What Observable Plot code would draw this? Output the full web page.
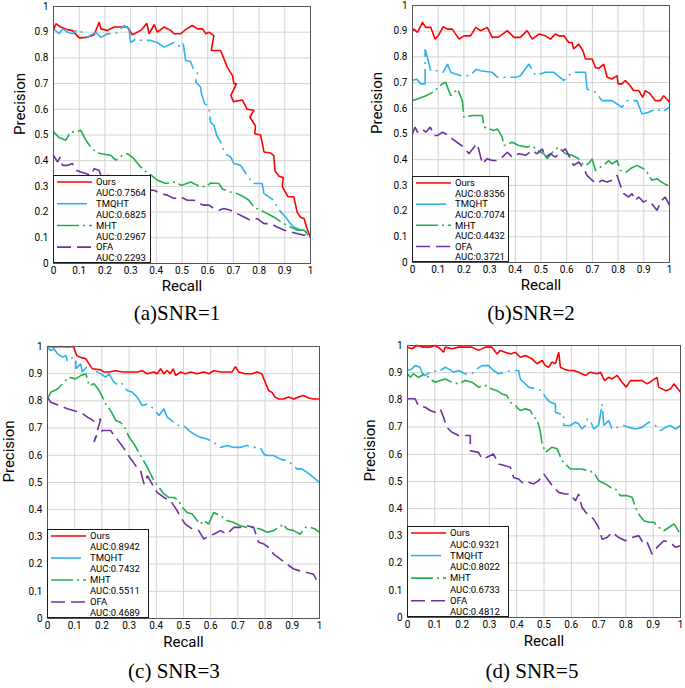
<!DOCTYPE html>
<html><head><meta charset="utf-8">
<script src="https://cdn.jsdelivr.net/npm/d3@7"></script>
<script src="https://cdn.jsdelivr.net/npm/@observablehq/plot@0.6"></script>
<style>
body{margin:0;background:#fff;}
#root{position:relative;width:685px;height:688px;overflow:hidden;background:#fff;font-family:Roboto,"Open Sans",sans-serif}
.panel{position:absolute}
.cap{position:absolute;font-family:"Liberation Serif","DejaVu Serif",serif;font-size:21px;line-height:21px;transform:translateX(-50%);white-space:nowrap;color:#000}
.legend{position:absolute;border:1.5px solid #1a1a1a;background:#fff;box-sizing:border-box}
.legend svg{position:absolute;left:0;top:0}
</style></head><body>
<div id="root"></div>
<script>
// ---------- data ----------
const methods = ["Ours", "TMQHT", "MHT", "OFA"];
const colors = ["#ff0000", "#2db3ec", "#22b04b", "#7030a0"];
const dashes = [null, "30,5,2,5", "22,4,2,4", "14,6"];
const ticks = [0,0.1,0.2,0.3,0.4,0.5,0.6,0.7,0.8,0.9,1];
const captions = ["(a)SNR=1", "(b)SNR=2", "(c) SNR=3", "(d) SNR=5"];
const aucA = ["AUC:0.7564","AUC:0.6825","AUC:0.2967","AUC:0.2293"];
const aucB = ["AUC:0.8356","AUC:0.7074","AUC:0.4432","AUC:0.3721"];
const aucC = ["AUC:0.8942","AUC:0.7432","AUC:0.5511","AUC:0.4689"];
const aucD = ["AUC:0.9321","AUC:0.8022","AUC:0.6733","AUC:0.4812"];

// (a) SNR=1  — [recall, precision]
const a_Ours = [[0,0.907],[0.009,0.933],[0.029,0.92],[0.054,0.91],[0.074,0.906],[0.1,0.878],[0.132,0.88],[0.158,0.89],[0.178,0.939],[0.184,0.913],[0.21,0.907],[0.236,0.92],[0.287,0.92],[0.307,0.89],[0.34,0.907],[0.363,0.935],[0.372,0.894],[0.392,0.93],[0.404,0.9],[0.43,0.92],[0.456,0.907],[0.469,0.894],[0.495,0.894],[0.514,0.91],[0.54,0.926],[0.56,0.913],[0.58,0.913],[0.593,0.894],[0.605,0.9],[0.624,0.887],[0.614,0.829],[0.65,0.829],[0.663,0.797],[0.676,0.764],[0.696,0.732],[0.702,0.70],[0.712,0.70],[0.69,0.654],[0.70,0.63],[0.735,0.636],[0.754,0.6],[0.78,0.596],[0.764,0.57],[0.786,0.535],[0.783,0.505],[0.806,0.5],[0.819,0.434],[0.845,0.43],[0.857,0.42],[0.862,0.36],[0.877,0.34],[0.894,0.335],[0.89,0.3],[0.912,0.26],[0.935,0.26],[0.948,0.2],[0.961,0.18],[0.975,0.175],[0.985,0.14],[1,0.1]];
const a_TMQHT = [[0,0.913],[0.022,0.894],[0.035,0.913],[0.054,0.9],[0.074,0.894],[0.087,0.906],[0.1,0.91],[0.13,0.88],[0.165,0.9],[0.184,0.88],[0.21,0.894],[0.242,0.894],[0.262,0.913],[0.275,0.926],[0.294,0.913],[0.3,0.86],[0.32,0.874],[0.34,0.868],[0.378,0.868],[0.404,0.86],[0.43,0.842],[0.469,0.86],[0.495,0.842],[0.505,0.855],[0.514,0.79],[0.534,0.785],[0.544,0.758],[0.56,0.74],[0.553,0.706],[0.572,0.687],[0.576,0.661],[0.588,0.622],[0.605,0.609],[0.611,0.55],[0.624,0.538],[0.635,0.499],[0.65,0.473],[0.66,0.447],[0.676,0.421],[0.689,0.415],[0.702,0.389],[0.728,0.382],[0.74,0.363],[0.754,0.343],[0.777,0.311],[0.812,0.311],[0.819,0.272],[0.838,0.259],[0.857,0.246],[0.87,0.22],[0.89,0.194],[0.903,0.181],[0.922,0.155],[0.935,0.142],[0.961,0.13],[0.987,0.123],[1,0.1]];
const a_MHT = [[0,0.512],[0.022,0.49],[0.048,0.48],[0.067,0.512],[0.087,0.512],[0.106,0.518],[0.126,0.48],[0.145,0.453],[0.165,0.434],[0.184,0.427],[0.223,0.421],[0.242,0.402],[0.268,0.421],[0.288,0.427],[0.313,0.408],[0.333,0.382],[0.352,0.363],[0.372,0.35],[0.404,0.324],[0.437,0.311],[0.469,0.317],[0.5,0.304],[0.534,0.317],[0.56,0.304],[0.592,0.298],[0.611,0.313],[0.644,0.311],[0.657,0.29],[0.689,0.278],[0.715,0.272],[0.741,0.259],[0.76,0.246],[0.78,0.22],[0.806,0.207],[0.832,0.194],[0.857,0.181],[0.877,0.168],[0.896,0.155],[0.922,0.142],[0.948,0.13],[0.974,0.13],[1,0.1]];
const a_OFA = [[0,0.421],[0.016,0.395],[0.026,0.414],[0.035,0.382],[0.054,0.382],[0.074,0.389],[0.087,0.363],[0.106,0.356],[0.126,0.35],[0.145,0.343],[0.158,0.369],[0.177,0.363],[0.184,0.343],[0.21,0.343],[0.236,0.337],[0.262,0.33],[0.313,0.298],[0.352,0.285],[0.391,0.285],[0.417,0.272],[0.443,0.266],[0.469,0.253],[0.495,0.259],[0.521,0.246],[0.547,0.246],[0.566,0.233],[0.585,0.227],[0.605,0.227],[0.624,0.214],[0.644,0.207],[0.663,0.214],[0.689,0.207],[0.715,0.194],[0.741,0.181],[0.767,0.168],[0.793,0.175],[0.819,0.155],[0.845,0.155],[0.87,0.142],[0.896,0.13],[0.922,0.123],[0.948,0.117],[0.974,0.11],[1,0.117]];

// (b) SNR=2
const b_Ours = [[0,0.902],[0.006,0.908],[0.019,0.895],[0.039,0.934],[0.052,0.915],[0.071,0.915],[0.088,0.869],[0.1,0.882],[0.119,0.917],[0.136,0.908],[0.155,0.908],[0.181,0.869],[0.2,0.882],[0.226,0.882],[0.246,0.915],[0.265,0.902],[0.291,0.915],[0.31,0.876],[0.336,0.878],[0.369,0.902],[0.395,0.876],[0.42,0.876],[0.446,0.902],[0.466,0.869],[0.492,0.889],[0.517,0.882],[0.537,0.869],[0.556,0.889],[0.569,0.882],[0.589,0.882],[0.608,0.856],[0.621,0.856],[0.627,0.831],[0.647,0.85],[0.663,0.824],[0.673,0.792],[0.699,0.792],[0.712,0.759],[0.725,0.755],[0.744,0.772],[0.757,0.721],[0.776,0.714],[0.796,0.727],[0.8,0.695],[0.815,0.695],[0.828,0.708],[0.847,0.688],[0.86,0.669],[0.88,0.669],[0.896,0.643],[0.906,0.669],[0.925,0.656],[0.944,0.63],[0.964,0.63],[0.977,0.649],[0.99,0.636],[1,0.624]];
const b_TMQHT = [[0,0.708],[0.016,0.714],[0.032,0.695],[0.049,0.695],[0.049,0.83],[0.058,0.798],[0.071,0.746],[0.097,0.746],[0.119,0.74],[0.136,0.772],[0.149,0.74],[0.188,0.727],[0.223,0.727],[0.248,0.752],[0.265,0.746],[0.31,0.74],[0.33,0.721],[0.362,0.721],[0.401,0.721],[0.42,0.727],[0.453,0.772],[0.479,0.727],[0.517,0.74],[0.55,0.74],[0.589,0.708],[0.621,0.74],[0.673,0.74],[0.679,0.675],[0.712,0.662],[0.737,0.63],[0.776,0.63],[0.815,0.604],[0.834,0.63],[0.873,0.63],[0.893,0.578],[0.918,0.585],[0.951,0.598],[0.97,0.585],[1,0.604]];
const b_MHT = [[0,0.63],[0.019,0.636],[0.052,0.649],[0.078,0.662],[0.116,0.695],[0.129,0.701],[0.149,0.649],[0.175,0.675],[0.194,0.63],[0.2,0.565],[0.233,0.572],[0.272,0.572],[0.278,0.527],[0.317,0.514],[0.33,0.52],[0.349,0.488],[0.356,0.455],[0.388,0.468],[0.414,0.455],[0.446,0.449],[0.466,0.455],[0.485,0.436],[0.511,0.423],[0.524,0.404],[0.55,0.436],[0.569,0.449],[0.595,0.423],[0.621,0.417],[0.647,0.404],[0.666,0.378],[0.686,0.385],[0.699,0.404],[0.712,0.358],[0.75,0.384],[0.763,0.397],[0.776,0.384],[0.796,0.397],[0.809,0.358],[0.834,0.352],[0.847,0.365],[0.873,0.378],[0.899,0.365],[0.912,0.352],[0.931,0.32],[0.951,0.326],[0.97,0.313],[0.99,0.3],[1,0.313]];
const b_OFA = [[0,0.501],[0.01,0.527],[0.019,0.507],[0.036,0.52],[0.052,0.507],[0.069,0.527],[0.084,0.494],[0.097,0.494],[0.116,0.507],[0.129,0.501],[0.155,0.481],[0.181,0.462],[0.2,0.449],[0.22,0.423],[0.239,0.449],[0.252,0.462],[0.272,0.384],[0.291,0.404],[0.31,0.397],[0.33,0.397],[0.349,0.41],[0.369,0.429],[0.388,0.41],[0.414,0.423],[0.44,0.417],[0.466,0.436],[0.485,0.423],[0.505,0.442],[0.517,0.41],[0.537,0.423],[0.556,0.41],[0.576,0.429],[0.595,0.442],[0.608,0.417],[0.627,0.378],[0.647,0.391],[0.666,0.365],[0.679,0.339],[0.699,0.32],[0.718,0.307],[0.737,0.32],[0.757,0.313],[0.776,0.32],[0.796,0.339],[0.809,0.3],[0.822,0.268],[0.841,0.255],[0.854,0.268],[0.867,0.242],[0.88,0.255],[0.899,0.235],[0.912,0.242],[0.931,0.229],[0.951,0.203],[0.97,0.242],[0.983,0.255],[1,0.223]];

// (c) SNR=3
const c_Ours = [[0,1],[0.024,0.998],[0.049,1],[0.073,0.998],[0.095,1],[0.108,0.966],[0.122,0.96],[0.141,0.955],[0.153,0.936],[0.165,0.918],[0.196,0.914],[0.208,0.906],[0.226,0.906],[0.251,0.911],[0.275,0.906],[0.3,0.906],[0.33,0.906],[0.348,0.911],[0.367,0.9],[0.391,0.906],[0.403,0.9],[0.416,0.918],[0.428,0.9],[0.44,0.911],[0.452,0.9],[0.462,0.918],[0.471,0.893],[0.489,0.906],[0.507,0.9],[0.526,0.906],[0.55,0.9],[0.575,0.906],[0.593,0.9],[0.611,0.911],[0.636,0.906],[0.66,0.906],[0.678,0.906],[0.691,0.926],[0.703,0.906],[0.727,0.9],[0.752,0.9],[0.77,0.906],[0.788,0.9],[0.8,0.869],[0.813,0.838],[0.825,0.832],[0.837,0.814],[0.85,0.807],[0.868,0.807],[0.886,0.814],[0.905,0.807],[0.923,0.814],[0.941,0.82],[0.96,0.811],[0.978,0.807],[1,0.807]];
const c_TMQHT = [[0,0.998],[0.01,0.985],[0.024,0.991],[0.037,0.973],[0.055,0.961],[0.067,0.967],[0.073,0.948],[0.086,0.948],[0.092,0.961],[0.104,0.948],[0.104,0.918],[0.122,0.936],[0.128,0.906],[0.144,0.924],[0.156,0.93],[0.171,0.912],[0.196,0.9],[0.214,0.887],[0.226,0.9],[0.244,0.869],[0.263,0.856],[0.275,0.863],[0.293,0.838],[0.312,0.832],[0.33,0.814],[0.348,0.783],[0.367,0.789],[0.391,0.771],[0.41,0.746],[0.428,0.771],[0.44,0.74],[0.465,0.721],[0.483,0.709],[0.501,0.709],[0.52,0.691],[0.538,0.678],[0.562,0.666],[0.587,0.66],[0.611,0.648],[0.636,0.629],[0.66,0.636],[0.685,0.629],[0.709,0.629],[0.733,0.636],[0.758,0.629],[0.782,0.629],[0.795,0.605],[0.807,0.599],[0.831,0.599],[0.856,0.586],[0.88,0.58],[0.899,0.568],[0.917,0.55],[0.935,0.55],[0.954,0.537],[0.978,0.519],[1,0.5]];
const c_MHT = [[0,0.807],[0.012,0.832],[0.037,0.844],[0.061,0.869],[0.079,0.887],[0.104,0.881],[0.122,0.893],[0.141,0.9],[0.153,0.856],[0.171,0.863],[0.19,0.838],[0.202,0.814],[0.214,0.789],[0.232,0.764],[0.251,0.728],[0.269,0.721],[0.287,0.697],[0.3,0.666],[0.318,0.642],[0.342,0.599],[0.367,0.556],[0.391,0.507],[0.41,0.482],[0.428,0.458],[0.446,0.445],[0.465,0.445],[0.483,0.433],[0.495,0.409],[0.513,0.39],[0.532,0.384],[0.55,0.36],[0.562,0.347],[0.575,0.36],[0.593,0.347],[0.611,0.39],[0.636,0.378],[0.66,0.36],[0.685,0.353],[0.709,0.341],[0.733,0.335],[0.758,0.335],[0.782,0.329],[0.807,0.317],[0.831,0.323],[0.85,0.335],[0.868,0.347],[0.88,0.329],[0.905,0.323],[0.929,0.31],[0.948,0.335],[0.966,0.335],[0.984,0.329],[1,0.317]];
const c_OFA = [[0,0.814],[0.012,0.795],[0.043,0.783],[0.073,0.771],[0.098,0.764],[0.122,0.758],[0.147,0.74],[0.159,0.734],[0.177,0.721],[0.196,0.734],[0.171,0.648],[0.183,0.679],[0.202,0.691],[0.232,0.691],[0.251,0.666],[0.269,0.642],[0.287,0.617],[0.306,0.587],[0.324,0.562],[0.342,0.544],[0.355,0.494],[0.367,0.525],[0.385,0.494],[0.403,0.464],[0.428,0.445],[0.452,0.433],[0.477,0.396],[0.489,0.372],[0.507,0.347],[0.532,0.329],[0.556,0.323],[0.575,0.292],[0.593,0.304],[0.611,0.31],[0.636,0.323],[0.66,0.31],[0.685,0.335],[0.709,0.335],[0.733,0.341],[0.758,0.335],[0.776,0.28],[0.795,0.274],[0.813,0.261],[0.831,0.237],[0.856,0.218],[0.88,0.2],[0.905,0.182],[0.929,0.175],[0.954,0.169],[0.978,0.163],[0.99,0.139],[1,0.145]];

// (d) SNR=5
const d_Ours = [[0,0.994],[0.016,0.988],[0.034,1],[0.059,0.994],[0.083,0.994],[0.101,1],[0.12,0.988],[0.132,0.975],[0.138,0.994],[0.163,0.988],[0.187,0.994],[0.211,0.994],[0.236,0.994],[0.26,0.982],[0.285,0.994],[0.309,0.994],[0.328,0.969],[0.34,0.982],[0.358,0.975],[0.377,0.969],[0.395,0.975],[0.413,0.957],[0.432,0.963],[0.456,0.951],[0.474,0.933],[0.493,0.945],[0.505,0.926],[0.517,0.92],[0.529,0.939],[0.542,0.933],[0.554,0.975],[0.56,0.92],[0.572,0.914],[0.59,0.908],[0.609,0.908],[0.627,0.902],[0.652,0.89],[0.67,0.902],[0.694,0.896],[0.707,0.902],[0.722,0.871],[0.737,0.883],[0.749,0.877],[0.768,0.89],[0.786,0.865],[0.801,0.847],[0.817,0.871],[0.835,0.871],[0.859,0.871],[0.878,0.859],[0.896,0.871],[0.914,0.883],[0.92,0.847],[0.945,0.834],[0.963,0.84],[0.976,0.859],[1,0.828]];
const d_TMQHT = [[0,0.908],[0.016,0.914],[0.028,0.926],[0.046,0.92],[0.055,0.896],[0.065,0.89],[0.083,0.902],[0.095,0.908],[0.114,0.902],[0.138,0.92],[0.15,0.914],[0.169,0.902],[0.187,0.908],[0.211,0.896],[0.236,0.896],[0.254,0.914],[0.273,0.926],[0.297,0.926],[0.315,0.908],[0.334,0.896],[0.358,0.902],[0.383,0.908],[0.407,0.908],[0.413,0.877],[0.444,0.847],[0.474,0.84],[0.493,0.834],[0.505,0.81],[0.523,0.791],[0.542,0.785],[0.542,0.755],[0.56,0.748],[0.572,0.748],[0.572,0.706],[0.597,0.706],[0.615,0.718],[0.627,0.712],[0.639,0.693],[0.652,0.706],[0.658,0.73],[0.67,0.724],[0.682,0.693],[0.7,0.706],[0.713,0.785],[0.719,0.706],[0.737,0.724],[0.749,0.693],[0.768,0.699],[0.792,0.706],[0.81,0.699],[0.835,0.693],[0.859,0.699],[0.884,0.718],[0.908,0.706],[0.927,0.687],[0.945,0.699],[0.963,0.706],[0.982,0.693],[1,0.706]];
const d_MHT = [[0,0.896],[0.01,0.883],[0.022,0.896],[0.04,0.883],[0.065,0.896],[0.083,0.877],[0.101,0.865],[0.12,0.871],[0.138,0.877],[0.163,0.865],[0.187,0.859],[0.211,0.871],[0.236,0.865],[0.26,0.847],[0.285,0.853],[0.309,0.84],[0.328,0.834],[0.346,0.822],[0.364,0.816],[0.377,0.791],[0.395,0.779],[0.413,0.761],[0.432,0.767],[0.45,0.761],[0.462,0.736],[0.474,0.73],[0.486,0.687],[0.493,0.638],[0.505,0.607],[0.529,0.626],[0.548,0.62],[0.566,0.577],[0.578,0.564],[0.597,0.546],[0.615,0.546],[0.639,0.546],[0.658,0.54],[0.682,0.534],[0.7,0.503],[0.725,0.491],[0.743,0.479],[0.762,0.472],[0.78,0.448],[0.804,0.448],[0.823,0.442],[0.835,0.405],[0.847,0.38],[0.866,0.356],[0.884,0.35],[0.902,0.35],[0.921,0.331],[0.939,0.319],[0.957,0.331],[0.976,0.344],[1,0.307]];
const d_OFA = [[0,0.804],[0.028,0.804],[0.04,0.779],[0.065,0.773],[0.083,0.761],[0.101,0.755],[0.12,0.767],[0.132,0.736],[0.144,0.699],[0.163,0.681],[0.187,0.669],[0.218,0.669],[0.23,0.669],[0.23,0.613],[0.26,0.607],[0.273,0.583],[0.291,0.589],[0.315,0.601],[0.334,0.564],[0.358,0.558],[0.377,0.552],[0.389,0.515],[0.407,0.509],[0.425,0.491],[0.444,0.497],[0.462,0.491],[0.48,0.503],[0.499,0.528],[0.517,0.503],[0.535,0.479],[0.554,0.46],[0.578,0.454],[0.597,0.454],[0.615,0.429],[0.627,0.454],[0.639,0.405],[0.658,0.38],[0.682,0.362],[0.7,0.331],[0.713,0.288],[0.731,0.294],[0.749,0.313],[0.774,0.294],[0.798,0.282],[0.823,0.294],[0.847,0.301],[0.866,0.27],[0.878,0.276],[0.896,0.233],[0.914,0.258],[0.939,0.282],[0.963,0.276],[0.982,0.258],[1,0.264]];

// ---------- layout ----------
const panels = [
  {series:[a_Ours,a_TMQHT,a_MHT,a_OFA], auc:aucA, cap:captions[0], left:0,   top:0,   ml:53, mt:6, pw:257, ph:257, mr:15, mb:40, ydx:-33, xdy:27,
   leg:{w:98, h:88}, capX:177, capY:303},
  {series:[b_Ours,b_TMQHT,b_MHT,b_OFA], auc:aucB, cap:captions[1], left:359, top:0,   ml:53, mt:5, pw:257, ph:257, mr:16, mb:40, ydx:-35, xdy:27,
   leg:{w:97, h:86}, capX:531, capY:303},
  {series:[c_Ours,c_TMQHT,c_MHT,c_OFA], auc:aucC, cap:captions[2], left:0,   top:340, ml:47, mt:6, pw:272, ph:272, mr:15, mb:45, ydx:-38, xdy:28,
   leg:{w:102, h:89}, capX:174, capY:661},
  {series:[d_Ours,d_TMQHT,d_MHT,d_OFA], auc:aucD, cap:captions[3], left:360, top:340, ml:47, mt:5, pw:273, ph:272, mr:5, mb:45, ydx:-37, xdy:28,
   leg:{w:102, h:91}, capX:532, capY:661}
];

const root = document.getElementById("root");
const fmt = d => d === 0 ? "0" : d === 1 ? "1" : d3.format(".1f")(d);

panels.forEach(p => {
  const chart = Plot.plot({
    width: p.ml + p.pw + p.mr,
    height: p.mt + p.ph + p.mb,
    marginLeft: p.ml, marginRight: p.mr, marginTop: p.mt, marginBottom: p.mb,
    style: {fontFamily: "Roboto, sans-serif", fontSize: "10px", background: "transparent", color: "#000"},
    x: {domain: [0, 1], label: null},
    y: {domain: [0, 1], label: null},
    marks: [
      Plot.gridX(ticks, {stroke: "#d2d2d2", strokeOpacity: 1, strokeWidth: 1}),
      Plot.gridY(ticks, {stroke: "#d2d2d2", strokeOpacity: 1, strokeWidth: 1}),
      ...methods.map((m, i) => Plot.line(p.series[i], {
        x: d => d[0], y: d => d[1], stroke: colors[i], strokeWidth: 1.6,
        strokeDasharray: dashes[i], strokeLinejoin: "miter", strokeLinecap: "butt"
      })),
      Plot.frame({stroke: "#555", strokeWidth: 1}),
      Plot.axisX(ticks, {tickSize: 0, tickPadding: 3, tickFormat: fmt, label: null, fontSize: 10}),
      Plot.axisY(ticks, {tickSize: 0, tickPadding: 5, tickFormat: fmt, label: null, fontSize: 10}),
      Plot.text(["Recall"], {frameAnchor: "bottom", dy: p.xdy, fontSize: 15, fill: "#000"}),
      Plot.text(["Precision"], {frameAnchor: "left", dx: p.ydx, rotate: -90, fontSize: 15, fill: "#000"})
    ]
  });
  const wrap = document.createElement("div");
  wrap.className = "panel";
  wrap.style.left = p.left + "px";
  wrap.style.top = p.top + "px";
  wrap.appendChild(chart);
  root.appendChild(wrap);

  // legend box, anchored to the lower-left corner of the plot frame
  const lx = p.left + p.ml, ly = p.top + p.mt + p.ph - p.leg.h;
  const leg = document.createElement("div");
  leg.className = "legend";
  Object.assign(leg.style, {left: lx + "px", top: ly + "px", width: p.leg.w + "px", height: p.leg.h + "px"});
  const step = (p.leg.h - 12) / 7;
  const svg = d3.create("svg").attr("width", p.leg.w).attr("height", p.leg.h);
  methods.forEach((m, i) => {
    const y1 = 6 + step * (2 * i), y2 = 6 + step * (2 * i + 1);
    svg.append("line").attr("x1", 3).attr("x2", 38).attr("y1", y1).attr("y2", y1)
      .attr("stroke", colors[i]).attr("stroke-width", 1.6).attr("stroke-dasharray", dashes[i]);
    svg.append("text").attr("x", 42).attr("y", y1).attr("dy", "0.35em")
      .attr("font-family", "Roboto, sans-serif").attr("font-size", 9.5).text(m);
    svg.append("text").attr("x", 42).attr("y", y2).attr("dy", "0.35em")
      .attr("font-family", "Roboto, sans-serif").attr("font-size", 9.5).text(p.auc[i]);
  });
  leg.appendChild(svg.node());
  root.appendChild(leg);

  const cap = document.createElement("div");
  cap.className = "cap";
  cap.style.left = p.capX + "px";
  cap.style.top = p.capY + "px";
  cap.textContent = p.cap;
  root.appendChild(cap);
});
</script>
</body></html>
